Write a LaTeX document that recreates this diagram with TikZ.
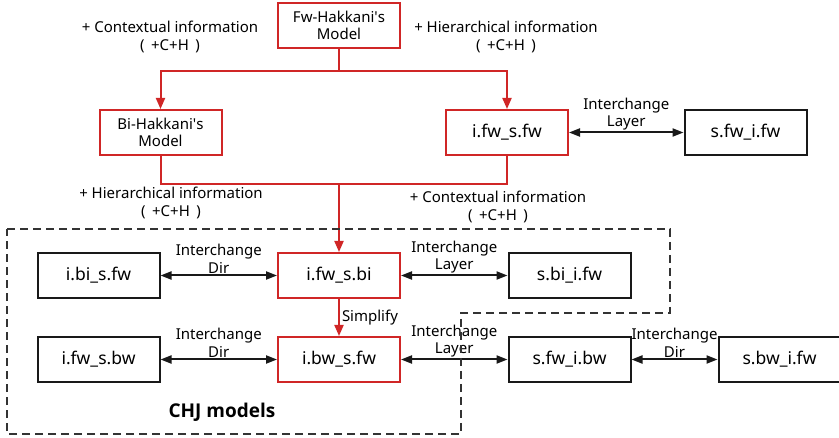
\documentclass[tikz,border=0pt]{standalone}
\usepackage{fontspec}
\setmainfont{Noto Sans}
\newfontfamily\chjfont{Open Sans}
\usetikzlibrary{arrows.meta}
\definecolor{hred}{RGB}{208,38,38}
\begin{document}
\begin{tikzpicture}[x=1pt,y=-1pt,
  font=\fontsize{15}{17}\selectfont,
  box/.style={draw=black!90,line width=2pt,minimum width=122pt,minimum height=45pt,inner sep=0pt,font=\fontsize{17.5}{19}\selectfont},
  redbox/.style={box,draw=hred},
  hbox/.style={redbox,font=\fontsize{15}{17}\selectfont,align=center},
  redline/.style={draw=hred,line width=2pt},
  redarrow/.style={redline,-{Triangle[length=11pt,width=9pt]}},
  bothway/.style={line width=2pt,draw=black!90,{Triangle[length=11pt,width=8pt]}-{Triangle[length=11pt,width=8pt]}},
  lbl/.style={align=center,inner sep=1pt,font=\fontsize{15}{17.5}\selectfont},
  frame/.style={line width=2pt,dash pattern=on 8pt off 5pt,color=black!80}
]
\useasboundingbox (0,0) rectangle (839,438);

% top part: Hakkani models
\node[hbox] (fw) at (339,25.5) {Fw-Hakkani\textquotesingle s\\Model};
\node[hbox] (bi) at (160.5,132.5) {Bi-Hakkani\textquotesingle s\\Model};
\node[redbox] (ifwsfw) at (507,132.5) {i.fw\_s.fw};
\node[box] (sfwifw) at (745.5,132.5) {s.fw\_i.fw};

\coordinate (split) at (339,71);
\coordinate (merge) at (339,184);

\draw[redline] (fw.south) -- (split);
\draw[redarrow] (split) -| (bi.north);
\draw[redarrow] (split) -| (ifwsfw.north);
\draw[redline] (bi.south) |- (merge);
\draw[redline] (ifwsfw.south) |- (merge);

\draw[bothway] (ifwsfw.east) -- node[lbl,above=0pt] {Interchange\\Layer} (sfwifw.west);

\node[lbl] at (170,37) {+ Contextual information\\(\, +C+H\, )};
\node[lbl] at (506,37) {+ Hierarchical information\\(\, +C+H\, )};
\node[lbl] at (171,203) {+ Hierarchical information\\(\, +C+H\, )};
\node[lbl] at (498,207) {+ Contextual information\\(\, +C+H\, )};

% CHJ models
\node[redbox] (ifwsbi) at (339,275.5) {i.fw\_s.bi};
\node[redbox] (ibwsfw) at (339,359.5) {i.bw\_s.fw};
\node[box] (ibisfw) at (98.5,275.5) {i.bi\_s.fw};
\node[box] (ifwsbw) at (98.5,359.5) {i.fw\_s.bw};
\node[box] (sbiifw) at (569.5,275.5) {s.bi\_i.fw};
\node[box] (sfwibw) at (569.5,359.5) {s.fw\_i.bw};
\node[box] (sbwifw) at (779.5,359.5) {s.bw\_i.fw};

\draw[redarrow] (merge) -- (ifwsbi.north);
\draw[redarrow] (ifwsbi.south) -- node[lbl,right=1pt] {Simplify} (ibwsfw.north);

\draw[bothway] (ibisfw.east) -- node[lbl,above=0pt] {Interchange\\Dir} (ifwsbi.west);
\draw[bothway] (ifwsbi.east) -- node[lbl,above=0pt] {Interchange\\Layer} (sbiifw.west);
\draw[bothway] (ifwsbw.east) -- node[lbl,above=0pt] {Interchange\\Dir} (ibwsfw.west);
\draw[bothway] (ibwsfw.east) -- node[lbl,above=0pt] {Interchange\\Layer} (sfwibw.west);
\draw[bothway] (sfwibw.east) -- node[lbl,above=0pt] {Interchange\\Dir} (sbwifw.west);

\draw[frame] (7,229) -- (670,229) -- (670,313) -- (461,313) -- (461,434) -- (7,434) -- cycle;
\node[font=\chjfont\fontsize{19}{21}\selectfont\bfseries] (chj) at (222,412) {CHJ models};
\end{tikzpicture}
\end{document}
